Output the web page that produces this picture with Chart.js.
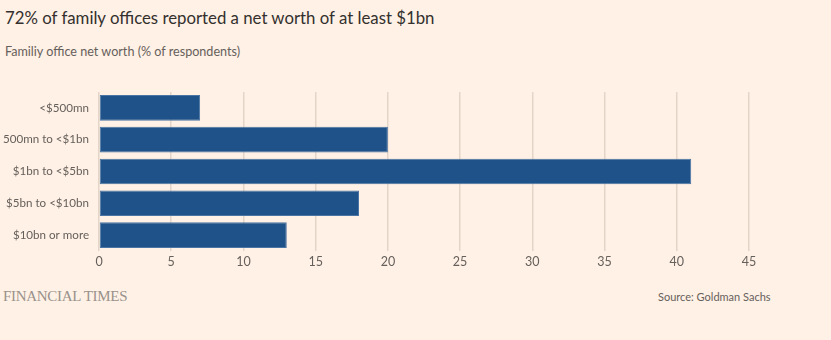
<!DOCTYPE html>
<html><head><meta charset="utf-8">
<script src="https://cdn.jsdelivr.net/npm/chart.js@4"></script>
<style>
html,body{margin:0;padding:0;background:#fff1e5;}
body{width:831px;height:340px;position:relative;overflow:hidden;font-family:Lato,sans-serif;}
#title{position:absolute;left:5px;top:7px;font-size:16.8px;color:#33302e;white-space:nowrap;}
#sub{position:absolute;left:5px;top:44px;font-size:12.6px;color:#66605c;white-space:nowrap;}
#ft{position:absolute;left:3px;top:288px;font-family:"Liberation Serif",serif;font-size:15px;color:#99928c;letter-spacing:-0.3px;}
#src{position:absolute;left:658px;top:290px;font-size:11px;color:#66605c;}
#wrap{position:absolute;left:0;top:75px;width:831px;height:200px;}
</style></head>
<body>
<div id="title">72% of family offices reported a net worth of at least $1bn</div>
<div id="sub">Familiy office net worth (% of respondents)</div>
<div id="wrap"><canvas id="c"></canvas></div>
<div id="ft">FINANCIAL TIMES</div>
<div id="src">Source: Goldman Sachs</div>
<script>
const categories = ["<$500mn", "500mn to <$1bn", "$1bn to <$5bn", "$5bn to <$10bn", "$10bn or more"];
const values = [7, 20, 41, 18, 13];
const xTicks = [0, 5, 10, 15, 20, 25, 30, 35, 40, 45];

const chart = new Chart(document.getElementById('c'), {
  type: 'bar',
  data: {
    labels: categories,
    datasets: [{
      data: values,
      backgroundColor: '#1f5289',
      borderColor: '#4a74a3',
      borderWidth: 1,
      borderSkipped: false,
      barPercentage: 0.84,
      categoryPercentage: 0.96
    }]
  },
  options: {
    indexAxis: 'y',
    responsive: true,
    maintainAspectRatio: false,
    animation: false,
    layout: { padding: { top: 6, right: 82, bottom: 0, left: 0 } },
    plugins: { legend: { display: false }, tooltip: { enabled: false } },
    scales: {
      x: {
        min: 0, max: 45,
        afterBuildTicks: s => { s.ticks = xTicks.map(v => ({ value: v })); },
        afterFit: s => { s.height = 24; },
        grid: { color: '#e3d5c8', lineWidth: 1.5, drawTicks: false },
        border: { display: false },
        ticks: { color: '#66605c', font: { family: 'Lato', size: 12.5 }, padding: 3 }
      },
      y: {
        grid: { display: false, drawTicks: false },
        border: { display: false },
        ticks: { color: '#66605c', font: { family: 'Lato', size: 11.6 }, padding: 10 }
      }
    }
  }
});
// shift so plot area starts at x=99
const dx = 99 - chart.chartArea.left;
chart.options.layout.padding.left = dx;
chart.update();
</script>
</body></html>
